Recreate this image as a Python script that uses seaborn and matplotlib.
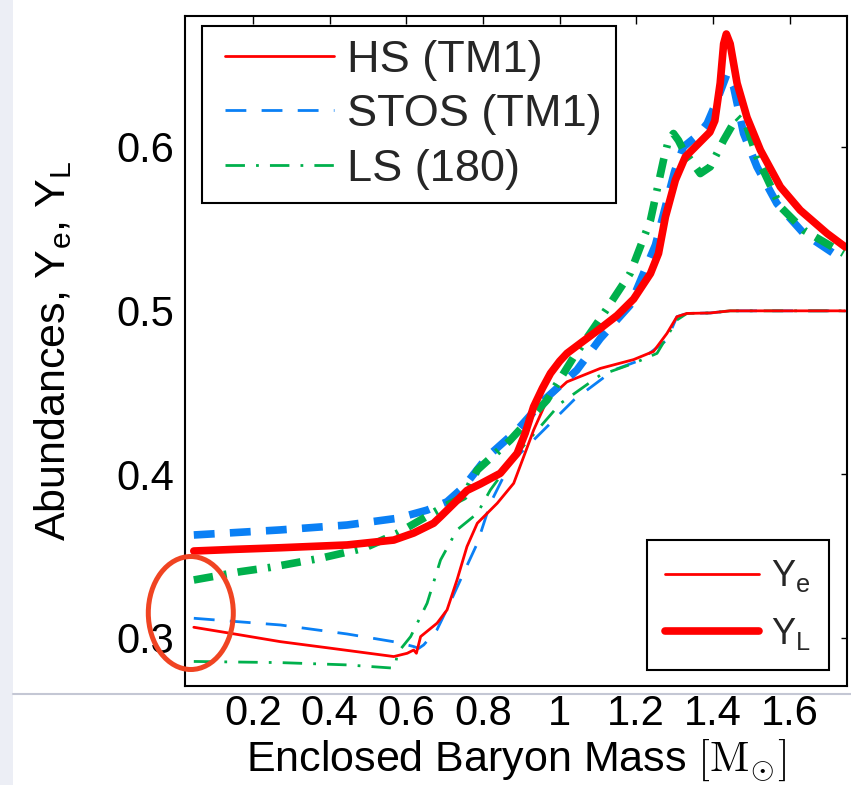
import matplotlib
matplotlib.use("Agg")
import matplotlib.pyplot as plt
import seaborn as sns
import pandas as pd
from matplotlib.patches import Ellipse, Rectangle
from matplotlib.lines import Line2D
from matplotlib.legend_handler import HandlerLine2D

# ---------------- data ----------------
hs_yl_x = [0.045, 0.15, 0.271, 0.445, 0.567, 0.619, 0.671, 0.689, 0.741, 0.758, 0.793, 0.845, 0.889,
           0.91, 0.932, 0.955, 0.976, 1.0, 1.019, 1.06, 1.106, 1.15, 1.193, 1.237, 1.258, 1.276, 1.302,
           1.328, 1.367, 1.392, 1.405, 1.419, 1.428, 1.435, 1.445, 1.463, 1.489, 1.524, 1.576, 1.628,
           1.698, 1.745]
hs_yl_y = [0.353, 0.354, 0.355, 0.3567, 0.3597, 0.364, 0.370, 0.374, 0.386, 0.390, 0.394, 0.4005, 0.4127,
           0.425, 0.4412, 0.4525, 0.4616, 0.469, 0.4738, 0.481, 0.489, 0.497, 0.507, 0.5226, 0.5349,
           0.5572, 0.5797, 0.5939, 0.6031, 0.609, 0.616, 0.639, 0.663, 0.669, 0.663, 0.639, 0.618, 0.598,
           0.5756, 0.5613, 0.5471, 0.5389]

hs_ye_x = [0.045, 0.141, 0.271, 0.402, 0.567, 0.602, 0.619, 0.626, 0.637, 0.680, 0.706, 0.732, 0.758,
           0.785, 0.837, 0.880, 0.906, 0.932, 0.967, 1.019, 1.106, 1.193, 1.245, 1.280, 1.306, 1.332,
           1.393, 1.445, 1.745]
hs_ye_y = [0.3064, 0.3027, 0.2976, 0.2936, 0.2885, 0.2905, 0.2925, 0.2905, 0.3007, 0.3089, 0.317, 0.3353,
           0.3557, 0.370, 0.3822, 0.3944, 0.4106, 0.4269, 0.4453, 0.4564, 0.4646, 0.4700, 0.4750, 0.486,
           0.4962, 0.4982, 0.4985, 0.4998, 0.4998]

stos_yl_x = [0.045, 0.271, 0.445, 0.576, 0.654, 0.706, 0.750, 0.811, 0.889, 0.958, 1.045, 1.106, 1.184,
             1.25, 1.30, 1.323, 1.36, 1.385, 1.41, 1.437, 1.454, 1.480, 1.515, 1.567, 1.637, 1.741]
stos_yl_y = [0.3628, 0.3659, 0.3689, 0.373, 0.378, 0.3831, 0.3923, 0.4106, 0.4269, 0.445, 0.4636, 0.4829,
             0.5033, 0.540, 0.585, 0.600, 0.607, 0.6143, 0.628, 0.6448, 0.6367, 0.6082, 0.5878, 0.5654,
             0.5471, 0.5308]

stos_ye_x = [0.045, 0.271, 0.445, 0.576, 0.619, 0.632, 0.645, 0.680, 0.715, 0.750, 0.785, 0.819, 0.871,
             0.958, 1.037, 1.141, 1.211, 1.280, 1.306, 1.332, 1.393, 1.445, 1.745]
stos_ye_y = [0.3119, 0.3078, 0.3023, 0.2972, 0.2946, 0.2935, 0.2956, 0.305, 0.322, 0.340, 0.3577, 0.3822,
             0.4066, 0.4269, 0.4453, 0.4636, 0.4697, 0.482, 0.4962, 0.4982, 0.4985, 0.4998, 0.4998]

ls_yl_x = [0.045, 0.167, 0.245, 0.376, 0.489, 0.576, 0.689, 0.750, 0.785, 0.871, 0.967, 1.037, 1.115,
           1.184, 1.237, 1.271, 1.284, 1.297, 1.31, 1.323, 1.367, 1.393, 1.428, 1.463, 1.489, 1.515,
           1.576, 1.637, 1.741]
ls_yl_y = [0.3353, 0.3404, 0.343, 0.3486, 0.3547, 0.3638, 0.379, 0.3862, 0.4025, 0.4208, 0.4453, 0.4717,
           0.4982, 0.5227, 0.5552, 0.5919, 0.604, 0.6082, 0.604, 0.598, 0.5837, 0.5878, 0.6041, 0.6183,
           0.6122, 0.5939, 0.5634, 0.5491, 0.5349]

ls_ye_x = [0.045, 0.271, 0.445, 0.567, 0.572, 0.576, 0.611, 0.654, 0.689, 0.732, 0.785, 0.819, 0.889,
           1.002, 1.106, 1.193, 1.254, 1.306, 1.332, 1.393, 1.445, 1.745]
ls_ye_y = [0.2855, 0.2848, 0.2834, 0.2814, 0.284, 0.2905, 0.3007, 0.3211, 0.3475, 0.3659, 0.376, 0.3903,
           0.4127, 0.4432, 0.4605, 0.4677, 0.4738, 0.4942, 0.4982, 0.4985, 0.4998, 0.4998]

eos_labels = ["HS (TM1)", "STOS (TM1)", "LS (180)"]
var_labels = ["Y$_\\mathsf{e}$", "Y$_\\mathsf{L}$"]
x_ticks = [0.2, 0.4, 0.6, 0.8, 1.0, 1.2, 1.4, 1.6]
x_ticklabels = ["0.2", "0.4", "0.6", "0.8", "1", "1.2", "1.4", "1.6"]
y_ticks = [0.3, 0.4, 0.5, 0.6]
y_ticklabels = ["0.3", "0.4", "0.5", "0.6"]

# ---------------- style ----------------
sns.set_theme(style="white")
plt.rcParams["font.family"] = ["Liberation Sans", "DejaVu Sans"]
plt.rcParams["mathtext.fontset"] = "custom"
plt.rcParams["mathtext.sf"] = "Liberation Sans"
plt.rcParams["mathtext.rm"] = "Liberation Sans"
plt.rcParams["mathtext.it"] = "Liberation Sans:italic"
plt.rcParams["lines.scale_dashes"] = False

RED = "#ff0000"
BLUE = "#0a80f5"
GREEN = "#00b04c"
DASH = (0, (15, 11))
DASHDOT = (0, (14, 8, 2, 8))
THIN = 2.0
THICK = 5.5

fig = plt.figure(figsize=(8.51, 7.85), dpi=100)
fig.patch.set_facecolor("white")
# slide-like background details
fig.add_artist(Rectangle((0, 0), 13 / 851, 1, transform=fig.transFigure,
                         facecolor="#eceef5", edgecolor="none", zorder=0))
fig.add_artist(Line2D([13 / 851, 1], [1 - 694 / 785] * 2, transform=fig.transFigure,
                      color="#c4c7d4", lw=1.5, zorder=0))

ax = fig.add_axes([185 / 851, 1 - 686 / 785, 662 / 851, 670 / 785])
ax.set_facecolor("white")

series = [
    (stos_ye_x, stos_ye_y, BLUE, DASH, THIN),
    (ls_ye_x, ls_ye_y, GREEN, DASHDOT, THIN),
    (hs_ye_x, hs_ye_y, RED, "-", THIN),
    (stos_yl_x, stos_yl_y, BLUE, DASH, THICK),
    (ls_yl_x, ls_yl_y, GREEN, DASHDOT, THICK),
    (hs_yl_x, hs_yl_y, RED, "-", THICK),
]
for xs, ys, col, ls, lw in series:
    df = pd.DataFrame({"x": xs, "y": ys})
    sns.lineplot(data=df, x="x", y="y", ax=ax, sort=False, estimator=None,
                 color=col, lw=lw)
    ax.lines[-1].set_linestyle(ls)
    ax.lines[-1].set_solid_capstyle("round")
    ax.lines[-1].set_solid_joinstyle("round")

ax.set_xlim(0.022, 1.75)
ax.set_ylim(0.2705, 0.68)
ax.set_xticks(x_ticks)
ax.set_xticklabels(x_ticklabels)
ax.set_yticks(y_ticks)
ax.set_yticklabels(y_ticklabels)
ax.tick_params(axis="both", direction="in", top=True, right=True, labelsize=30,
               width=1.0, color="black", labelcolor="black")
ax.tick_params(axis="x", length=6, pad=6)
ax.tick_params(axis="y", length=4, pad=8)
for s in ax.spines.values():
    s.set_visible(True)
    s.set_color("black")
    s.set_linewidth(1.5)

ax.set_xlabel("Enclosed Baryon Mass $[\\mathrm{M}_{\\odot}]$", fontsize=31, labelpad=2,
              color="black", math_fontfamily="cm")
ax.set_ylabel("Abundances, Y$_\\mathsf{e}$, Y$_\\mathsf{L}$", fontsize=31, labelpad=30,
              color="black")

# legend 1: EOS
h1 = [Line2D([], [], color=RED, lw=THIN, ls="-"),
      Line2D([], [], color=BLUE, lw=THIN, ls=DASH),
      Line2D([], [], color=GREEN, lw=THIN, ls=DASHDOT)]
leg1 = ax.legend(h1, eos_labels, loc="upper left", bbox_to_anchor=(0.025, 0.985),
                 fontsize=32.5, handlelength=2.63, handletextpad=0.3, labelspacing=0.3,
                 borderpad=0.3, borderaxespad=0, frameon=True, fancybox=False,
                 framealpha=1, edgecolor="black",
                 handler_map={Line2D: HandlerLine2D(xpad=0.22)})
leg1.get_frame().set_linewidth(1.5)
ax.add_artist(leg1)

# legend 2: line widths
h2 = [Line2D([], [], color=RED, lw=THIN), Line2D([], [], color=RED, lw=THICK)]
leg2 = ax.legend(h2, var_labels, loc="lower right", bbox_to_anchor=(0.973, 0.024),
                 fontsize=26, handlelength=2.6, handletextpad=0.35, labelspacing=0.6,
                 borderpad=0.5, borderaxespad=0, frameon=True, fancybox=False,
                 framealpha=1, edgecolor="black")
leg2.get_frame().set_linewidth(1.5)

# red ellipse annotation
fig.add_artist(Ellipse((190.8 / 100, (785 - 613) / 100), 0.85, 1.13,
                       transform=fig.dpi_scale_trans, fill=False,
                       edgecolor="#f04422", lw=3.6, zorder=10))

fig.savefig("out.png", dpi=100, facecolor=fig.get_facecolor())
